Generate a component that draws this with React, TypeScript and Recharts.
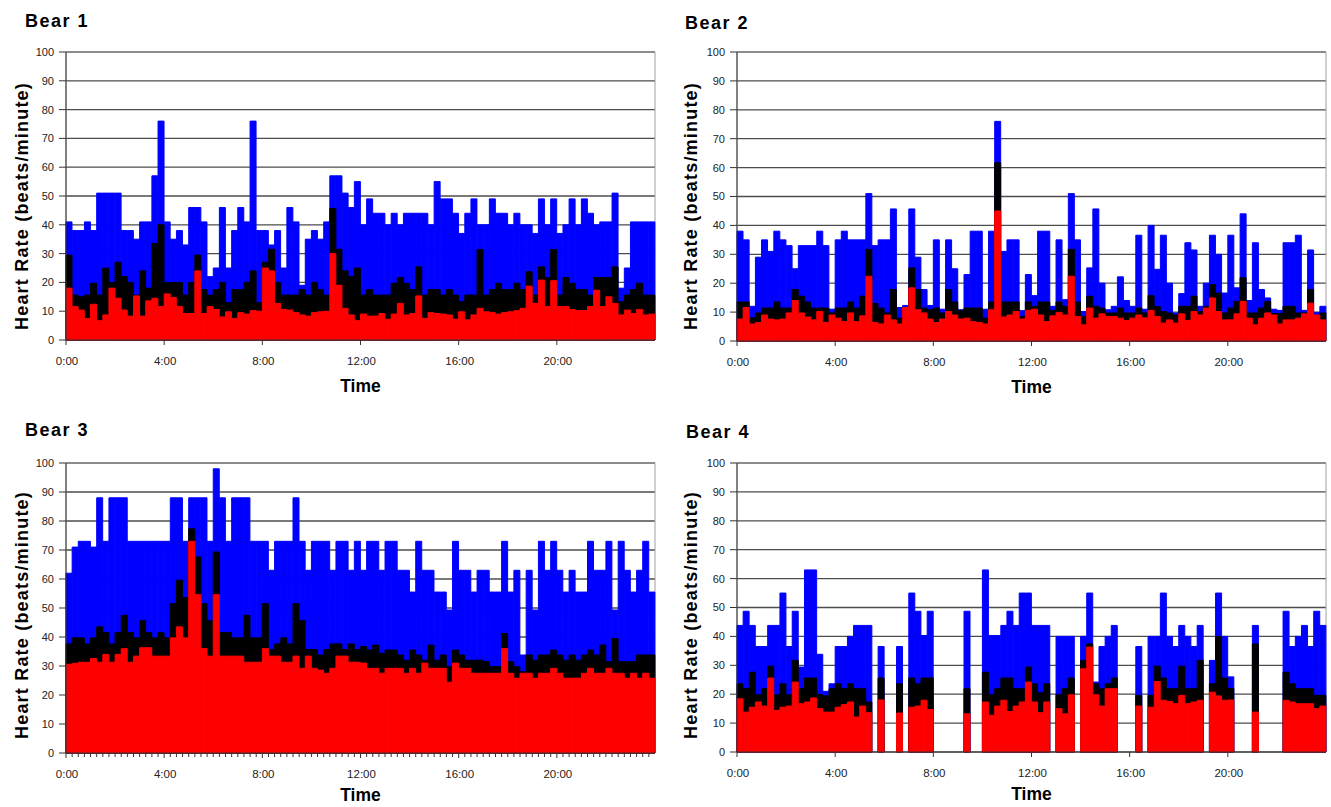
import { BarChart, Bar, XAxis, YAxis, CartesianGrid, ReferenceArea } from 'recharts';

// 15-minute slots over one day; labels are shown every 4 hours
const slots: string[] = [];
for (let i = 0; i < 96; i++) {
  slots.push(`${Math.floor(i / 4)}:${String((i % 4) * 15).padStart(2, '0')}`);
}
const yTicks = [0, 10, 20, 30, 40, 50, 60, 70, 80, 90, 100];

// Bear 1
const bear1Max = [
  41, 38, 38, 41, 38, 51, 51, 51, 51, 38, 38, 35, 41, 41, 57, 76,
  41, 35, 38, 33, 46, 46, 41, 22, 25, 46, 25, 38, 46, 41, 76, 38,
  38, 33, 38, 25, 46, 41, 19, 35, 38, 35, 41, 57, 57, 51, 46, 55,
  40, 49, 44, 44, 40, 44, 40, 44, 44, 44, 44, 40, 55, 49, 49, 44,
  37, 44, 49, 40, 40, 49, 44, 44, 40, 44, 40, 40, 37, 49, 40, 49,
  37, 40, 49, 40, 49, 44, 40, 41, 41, 51, 18, 25, 41, 41, 41, 41,
];
const bear1Mean = [
  29.5, 15.6, 15, 15.6, 19.7, 15.6, 25, 20, 27, 22, 20, 15.6, 24, 18, 33.5, 40,
  20, 20, 20, 15.6, 20, 29.5, 17.5, 15.6, 17.5, 20, 13, 17.5, 17.5, 20, 24, 13,
  27, 31.5, 20, 15.6, 15.6, 15.6, 17.5, 15.6, 20, 17.5, 15.6, 45.7, 31.5, 24, 22, 25,
  15.6, 17.5, 15.6, 15.6, 15.6, 19.7, 21.7, 19.7, 17.5, 25.4, 15.6, 17.5, 17.5, 15.6, 17.5, 15.6,
  13.3, 15.6, 15.6, 31.4, 15.6, 17.5, 19.7, 17.5, 17.5, 19.7, 17.5, 23.7, 15.6, 25.4, 21.7, 31.4,
  15.6, 21.7, 19.7, 17.5, 17.5, 15.6, 21.7, 21.7, 21.7, 25.4, 13.3, 15.6, 17.5, 19.7, 15.6, 15.6,
];
const bear1Min = [
  18, 11.6, 10.4, 7.5, 12.4, 6.7, 8.7, 18, 14.5, 10.4, 8.3, 15.3, 8.3, 13.6, 14.5, 11.6,
  16, 14.8, 11.6, 9.2, 9.2, 24, 9.2, 11.6, 10.6, 8, 9.8, 7.5, 9.5, 9, 10.2, 10,
  25, 24, 12.7, 10.6, 10.4, 9.5, 8.7, 8.3, 9.5, 9.8, 10, 30, 19, 11, 8.7, 6.7,
  9, 8.3, 8.3, 9.2, 7.2, 9, 12.7, 8.7, 9.2, 15.3, 7.5, 9.5, 9.2, 9, 8.7, 7.2,
  9.8, 7, 8.7, 11, 9.8, 9.5, 9, 9.5, 9.8, 10.2, 11, 18.7, 12.7, 20.8, 11.6, 20.6,
  11.6, 11.6, 10.6, 10.2, 10.2, 11.6, 17.3, 11.6, 15, 12.7, 8.7, 10.4, 9.2, 10.6, 8.7, 9,
];

// Bear 2
const bear2Max = [
  38, 35, 12, 29, 35, 31, 38, 35, 33, 25, 33, 33, 33, 38, 33, 11,
  35, 38, 35, 35, 35, 51, 33, 35, 35, 45.7, 11.6, 12.3, 45.7, 29, 17.8, 12.3,
  35, 11, 35, 25, 10.8, 23, 38, 38, 11, 38, 76, 31, 35, 35, 10.5, 23,
  15.7, 38, 38, 12, 35, 14.3, 51, 35, 10.2, 25.3, 45.7, 20, 10.8, 12, 22.2, 14,
  12, 36.6, 11, 40, 24.8, 36.6, 20, 9.7, 16.4, 34, 31.5, 12, 20, 36.6, 30, 16.6,
  36.6, 18.4, 44, 14, 34, 17.8, 14.9, 11, 10.6, 34, 34, 36.6, 10.6, 31.5, 9.9, 12,
];
const bear2Mean = [
  13.5, 13.5, 8, 9.7, 11.4, 11.4, 13.5, 11.4, 11.4, 17.8, 15.5, 13.5, 11.4, 11.4, 11.4, 9.7,
  11.4, 11.4, 13.5, 11.4, 15.5, 31.7, 13, 11.4, 9.7, 17.8, 7.9, 11.5, 25.3, 17.8, 11.4, 10.8,
  11.4, 9.7, 17.8, 13.5, 10.6, 11.4, 11.4, 11.4, 7.9, 13.5, 61.7, 13.5, 13.5, 13.5, 8.5, 13.5,
  12, 13.5, 13.5, 10.6, 13.5, 12, 31.7, 13.5, 8.5, 15.5, 12, 11.4, 9.7, 9.7, 11.4, 9.7,
  9.7, 11.4, 9.7, 15.7, 12, 10.2, 9.7, 9, 12, 12, 15.5, 10.2, 12, 19.5, 16.6, 9.7,
  11.4, 13.7, 21.9, 9.7, 9.7, 11.4, 13.7, 9.5, 9.5, 12, 12, 9.7, 9.7, 17.8, 8.5, 9.7,
];
const bear2Min = [
  7.6, 11.6, 5.9, 6.4, 9, 7.6, 7.3, 7.6, 9.7, 14, 9.7, 8.3, 7.3, 10.2, 6.4, 9,
  7.9, 6.7, 9.7, 6.7, 8.7, 22.4, 6.4, 5.9, 9, 7.3, 5.9, 11.6, 18.4, 10.8, 9.7, 7.6,
  6.4, 7.6, 10.2, 9, 7.6, 7.9, 6.7, 6.4, 5.9, 10.8, 45, 8.3, 9, 10.2, 7.6, 10.6,
  11, 9, 6.7, 8.7, 9.9, 9, 22.4, 8.5, 5.6, 11.4, 7.9, 9.4, 8.5, 8.5, 7.9, 7.1,
  7.9, 9, 8, 10.6, 8.5, 6.2, 7.3, 6.2, 9.4, 7.1, 10.2, 9, 11.4, 14.9, 10.2, 7.3,
  7.3, 9.4, 13.7, 7.9, 5.6, 7.9, 9.7, 9, 5.9, 7.3, 7.3, 7.9, 9.4, 13.1, 9, 7.3,
];

// Bear 3
const bear3Max = [
  62, 71, 73, 73, 71, 88, 73, 88, 88, 88, 73, 73, 73, 73, 73, 73,
  73, 88, 88, 73, 88, 88, 88, 73, 98, 88, 73, 88, 88, 88, 73, 73,
  73, 63, 73, 73, 73, 88, 73, 63, 73, 73, 73, 63, 73, 73, 63, 73,
  63, 73, 73, 63, 73, 73, 63, 63, 55.5, 73, 63, 63, 55.5, 55.5, 49.3, 73,
  63, 63, 55.5, 63, 63, 55.5, 55.5, 73, 55.5, 63, 33.8, 63, 49.3, 73, 63, 73,
  63, 55.5, 63, 55.5, 55.5, 73, 63, 63, 73, 49.3, 73, 63, 55.5, 63, 73, 55.5,
];
const bear3Mean = [
  37.6, 39.7, 39.7, 37.6, 39.7, 43.5, 41.5, 37.6, 41.5, 47.5, 41.5, 39.7, 45.6, 41.5, 39.7, 41.5,
  39.7, 51.5, 59.6, 53.6, 77.3, 67.6, 51.5, 45.6, 69.3, 41.5, 41.5, 39.7, 39.7, 47.5, 39.7, 39.7,
  51.5, 35.7, 37.6, 39.7, 37.6, 51.5, 45.6, 35.7, 35.7, 33.8, 35.7, 37.6, 37.6, 35.7, 37.6, 35.7,
  36.7, 35.5, 37.2, 34.4, 35.5, 35.5, 33.8, 32, 35.5, 33.8, 32, 37.2, 32, 33.8, 29.8, 35.5,
  33.8, 32, 32, 32, 31.5, 29.8, 29.8, 41.2, 31.5, 29.8, 28, 33.8, 32, 33.8, 33.8, 35.5,
  33.8, 32, 33.8, 32, 33.8, 35.5, 33.8, 37.2, 31.5, 39.5, 31.5, 31.5, 31.5, 33.8, 33.8, 33.8,
];
const bear3Min = [
  30.6, 30.9, 31.3, 31.3, 32.6, 31.3, 34, 31.3, 34, 36, 31.3, 33.4, 36.3, 36.3, 33.4, 33.4,
  33.4, 39.7, 43.5, 39.7, 73, 54.6, 36, 33.4, 54.6, 33.4, 33.4, 33.4, 33.4, 31.3, 31.3, 31.3,
  36, 33.4, 33.4, 31.3, 31.3, 33.4, 29.2, 33.4, 29.2, 28.6, 27.5, 29.2, 33.4, 33.4, 31.3, 31.3,
  31, 29.2, 29.2, 27.5, 29.2, 29.2, 29.2, 27.5, 29.2, 27.5, 31, 29.2, 29.2, 29.2, 24.4, 31,
  29.2, 29.2, 27.5, 27.5, 27.5, 27.5, 27.5, 36, 27.5, 25.8, 27.5, 27.5, 25.8, 27.5, 27.5, 29.2,
  27.5, 25.8, 25.8, 25.8, 27.5, 29.2, 27.5, 27.5, 29.2, 27.5, 27.5, 25.8, 27.5, 25.8, 27.5, 25.8,
];

// Bear 4 (null = no recording in that slot)
const bear4Max = [
  43.8, 48.7, 43.8, 36.5, 36.5, 43.8, 43.8, 55, 36.5, 48.7, 29.4, 63, 63, 33.8, 21, 23.6,
  36.5, 36.5, 40, 43.8, 43.8, 43.8, null, 36.5, null, null, 36.5, null, 55, 48.7, 40.3, 48.7,
  null, null, null, null, null, 48.7, null, null, 63, 40.3, 40.3, 43.8, 48.7, 43.8, 55, 55,
  43.8, 43.8, 43.8, null, 40, 40, 40, null, 40, 55, 24.2, 36.5, 40, 43.8, null, null,
  null, 36.5, null, 40, 40, 55, 40, 36.5, 43.8, 40, 36.5, 43.8, null, 31.7, 55, 40,
  26, null, null, null, 43.8, null, null, null, null, 48.7, 36.5, 40, 43.8, 36.5, 48.7, 43.8,
];
const bear4Mean = [
  23.6, 21.9, 27.6, 19.8, 21.9, 29.7, 19.8, 23.6, 19.8, 31.7, 21.9, 25.6, 25.6, 19.8, 19.4, 21.9,
  23.6, 21.9, 23.6, 21.9, 21.9, 17.3, null, 25.6, null, null, 23.6, null, 25.6, 23.6, 25.6, 25.6,
  null, null, null, null, null, 21.9, null, null, 27.6, 19.8, 21.9, 25.6, 25.6, 21.9, 21.9, 29.4,
  23.6, 20.5, 23.6, null, 19.8, 21.9, 25.6, null, 31.7, 37.4, 23.6, 21.9, 23.6, 25.6, null, null,
  null, 19.6, null, 19.6, 29.7, 25.6, 21.9, 21.9, 29.7, 21.9, 21.9, 31.7, null, 23.6, 40, 25.6,
  22, null, null, null, 37.4, null, null, null, null, 27.6, 23.6, 21.9, 21.9, 21.9, 19.6, 19.6,
];
const bear4Min = [
  18.4, 13.8, 15.5, 17.3, 15.9, 25.6, 14.4, 15.5, 15.9, 24.2, 16.7, 17.3, 18.7, 15, 13.8, 13.8,
  15.5, 16.4, 17.3, 12.1, 15.9, 13.6, null, 18, null, null, 13.5, null, 15.5, 15.9, 17.9, 14.7,
  null, null, null, null, null, 13.2, null, null, 17.3, 12.7, 15.9, 17.9, 14, 15.9, 17.3, 24.2,
  17.3, 13.6, 17.3, null, 15, 13.2, 19.8, null, 28.8, 36.3, 19.8, 15.9, 21.9, 21.9, null, null,
  null, 15.9, null, 15.5, 24.4, 17.9, 17.5, 16.7, 19.6, 16.7, 17.3, 17.9, null, 20.7, 19.4, 17.9,
  18, null, null, null, 13.8, null, null, null, null, 17.9, 17.3, 16.7, 16.7, 16.7, 15, 15.9,
];

const FONT = '"Liberation Sans", Arial, Helvetica, sans-serif';
const AXIS = '#333';
const Y_AXIS_W = 66;

// eslint-disable-next-line @typescript-eslint/no-explicit-any
function TimeTick(props: any) {
  const { x, y, index, payload, band, dense } = props;
  const major = index % 16 === 0;
  if (!major && !dense) return null;
  // Excel-style: ticks sit on the left edge of each 15-min column
  const left = x - band / 2;
  return (
    <g>
      <line x1={left} x2={left} y1={y} y2={y + (major ? 5 : 4)} stroke={AXIS} />
      {major && (
        <text x={left + 1} y={y + 25} textAnchor="middle" fontSize={11.5} fill="#222">
          {payload.value}
        </text>
      )}
    </g>
  );
}

interface PanelProps {
  title: string;
  max: (number | null)[];
  mean: (number | null)[];
  min: (number | null)[];
  left: number;
  top: number;
  width: number;
  height: number;
  marginRight: number;
  marginBottom: number;
  titlePos: [number, number];
  labelPos: [number, number];
  timeOffset: number;
  dense?: boolean;
}

function Panel({
  title, max, mean, min, left, top, width, height,
  marginRight, marginBottom, titlePos, labelPos, timeOffset, dense = false,
}: PanelProps) {
  const data = slots.map((t, i) => ({ t, max: max[i], mean: mean[i], min: min[i] }));
  const band = (width - Y_AXIS_W - marginRight) / slots.length;

  return (
    <div style={{ position: 'absolute', left, top, width, height }}>
      <div
        style={{
          position: 'absolute',
          left: titlePos[0],
          top: titlePos[1],
          fontSize: 18,
          fontWeight: 700,
          letterSpacing: '1.5px',
          whiteSpace: 'nowrap',
        }}
      >
        {title}
      </div>
      <div
        style={{
          position: 'absolute',
          left: labelPos[0],
          top: labelPos[1],
          transform: 'translate(-50%, -50%) rotate(-90deg)',
          fontSize: 18,
          fontWeight: 700,
          letterSpacing: '1.2px',
          whiteSpace: 'nowrap',
        }}
      >
        Heart Rate (beats/minute)
      </div>
      <BarChart
        width={width}
        height={height}
        data={data}
        margin={{ top: 52, right: marginRight, left: 0, bottom: marginBottom }}
        barCategoryGap={0}
        barGap={0}
      >
        <CartesianGrid vertical={false} stroke="#4d4d4d" strokeWidth={1.3} />
        <ReferenceArea y1={0} y2={100} fill="none" stroke="#a0a0a0" strokeWidth={1} />
        <XAxis
          dataKey="t"
          interval={0}
          height={54}
          tickSize={0}
          tickMargin={0}
          tickLine={false}
          axisLine={{ stroke: AXIS }}
          tick={<TimeTick band={band} dense={dense} />}
          label={{
            value: 'Time',
            position: 'insideTop',
            offset: timeOffset,
            style: { fontSize: 17.5, fontWeight: 700, fill: '#000' },
          }}
        />
        <XAxis xAxisId="mean" dataKey="t" hide />
        <XAxis xAxisId="min" dataKey="t" hide />
        <YAxis
          domain={[0, 100]}
          ticks={yTicks}
          interval={0}
          width={Y_AXIS_W}
          tickSize={7}
          tickMargin={5}
          axisLine={{ stroke: AXIS }}
          tickLine={{ stroke: AXIS }}
          tick={{ fontSize: 11, fill: '#222' }}
        />
        {/* a hairline stroke in the fill colour hides the seams between columns */}
        <Bar dataKey="max" fill="#0000ff" stroke="#0000ff" strokeWidth={1} isAnimationActive={false} />
        <Bar xAxisId="mean" dataKey="mean" fill="#000000" stroke="#000000" strokeWidth={1} isAnimationActive={false} />
        <Bar xAxisId="min" dataKey="min" fill="#ff0000" stroke="#ff0000" strokeWidth={1} isAnimationActive={false} />
      </BarChart>
    </div>
  );
}

export default function App() {
  return (
    <div style={{ position: 'relative', width: 1331, height: 807, fontFamily: FONT, background: '#fff', overflow: 'hidden' }}>
      <style>{'body { margin: 0; }'}</style>
      <Panel
        title="Bear 1" max={bear1Max} mean={bear1Mean} min={bear1Min}
        left={0} top={0} width={665} height={400} marginRight={10} marginBottom={6}
        titlePos={[25, 11]} labelPos={[22, 206]} timeOffset={40}
      />
      <Panel
        title="Bear 2" max={bear2Max} mean={bear2Mean} min={bear2Min}
        left={671} top={0} width={660} height={400} marginRight={5} marginBottom={5}
        titlePos={[14, 13]} labelPos={[20, 206]} timeOffset={40}
      />
      <Panel
        title="Bear 3" max={bear3Max} mean={bear3Mean} min={bear3Min}
        left={0} top={411} width={665} height={396} marginRight={10} marginBottom={0}
        titlePos={[25, 9]} labelPos={[22, 204]} timeOffset={36} dense
      />
      <Panel
        title="Bear 4" max={bear4Max} mean={bear4Mean} min={bear4Min}
        left={671} top={411} width={660} height={396} marginRight={5} marginBottom={1}
        titlePos={[15, 11]} labelPos={[20, 204]} timeOffset={36}
      />
    </div>
  );
}
